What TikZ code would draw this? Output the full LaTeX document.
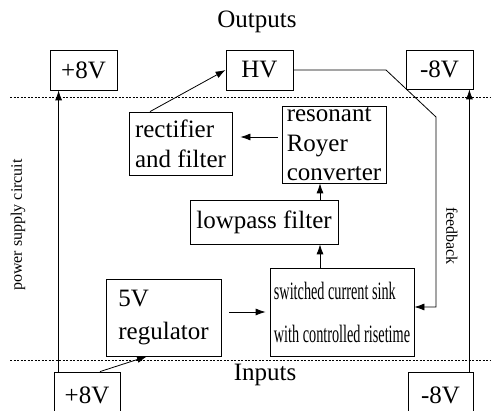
\documentclass[tikz,border=0pt]{standalone}
\usepackage{fontspec}
\setmainfont{Liberation Serif}
\usetikzlibrary{arrows.meta,positioning}

\begin{document}
\begin{tikzpicture}[x=1pt,y=-1pt,>={Latex[length=10pt,width=7pt]},line width=0.8pt,
        font=\fontsize{25}{30}\selectfont,
        block/.style={draw,align=left,inner sep=0pt},
        side/.style={font=\fontsize{16}{18}\selectfont},
        divider/.style={line width=0.6pt,dash pattern=on 2pt off 1.5pt}]

                \useasboundingbox (0,0) rectangle (491,411);

                % outputs
                \node (outs) at (257,22) {Outputs};
                \node[block,minimum width=67pt,minimum height=40pt] (p8out) at (83.5,70) {+8V};
                \node[block,minimum width=67pt,minimum height=40pt] (hv) at (259.5,70) {HV};
                \node[block,minimum width=67pt,minimum height=39pt] (m8out) at (439.5,69.5) {-8V};

                % circuit
                \node[block,minimum width=103pt,minimum height=63pt] (rect) at (180.5,143.5) {rectifier\\and filter};
                \node[block,minimum width=104pt,minimum height=77pt,font=\fontsize{25}{29.5}\selectfont] (royer) at (334,144.5) {resonant\\Royer\\converter};
                \node[block,minimum width=148pt,minimum height=44pt] (lowpass) at (264,222) {lowpass filter};
                \node[block,minimum width=144pt,minimum height=88pt,font=\fontsize{25}{43}\selectfont] (sink) at (342,312)
                        {\scalebox{0.57}[1]{switched current sink}\\\scalebox{0.57}[1]{with controlled risetime}};
                \node[block,minimum width=115pt,minimum height=77pt,font=\fontsize{25}{33}\selectfont] (reg) at (163.5,317.5) {5V\\regulator};

                % inputs
                \node (ins) at (265,375) {Inputs};
                \node[block,minimum width=66pt,minimum height=46pt] (p8in) at (87,395) {+8V};
                \node[block,minimum width=65pt,minimum height=46pt] (m8in) at (440.5,395) {-8V};

                \node[side,rotate=90] (psc) at (18,225) {power supply circuit};
                \node[side,rotate=-90] (fb) at (452,236) {feedback};

                % dividers
                \coordinate (topL) at (10,97);
                \coordinate (topR) at (491,97);
                \coordinate (botL) at (10,360);
                \coordinate (botR) at (491,360);
                \draw[divider] (topL) -- (topR);
                \draw[divider] (botL) -- (botR);

                \coordinate (upx) at (320,0);
                \coordinate (lvl) at (0,137);
                \coordinate (fbknee) at (386,70);
                \coordinate (fbbend) at (436,117);

                \path[->] ([xshift=5pt]p8in.north west) edge ([xshift=9pt]p8out.south west)
                          ([xshift=-4pt]m8in.north east) edge ([xshift=-4pt]m8out.south east)
                          ([xshift=13pt]p8in.north) edge ([xshift=-16.5pt]reg.south)
                          (reg.east |- sink.west) edge [shorten <=8pt,shorten >=4pt] (sink.west)
                          (upx |- sink.north) edge (upx |- lowpass.south)
                          (upx |- lowpass.north) edge (upx |- royer.south)
                          (lvl -| royer.west) edge [shorten <=4pt,shorten >=8pt] (lvl -| rect.east)
                          ([xshift=-30.5pt]rect.north) edge (hv.west);

                \draw[->] (hv.east) -- (fbknee) -- (fbbend) |- ([yshift=5pt]sink.east);

            \end{tikzpicture}
\end{document}
